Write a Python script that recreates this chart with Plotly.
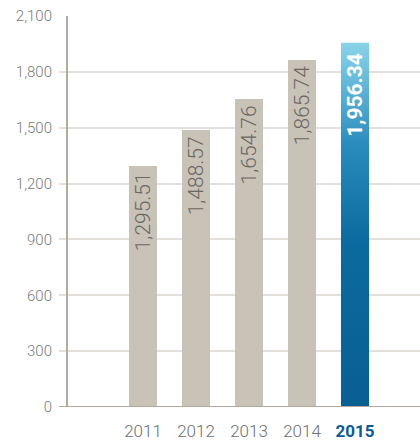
import plotly.graph_objects as go

# Yearly values shown on the chart
years = [2011, 2012, 2013, 2014, 2015]
values = [1295.51, 1488.57, 1654.76, 1865.74, 1956.34]
year_labels = ["2011", "2012", "2013", "2014",
               "<b><span style='color:#0e5a96'>2015</span></b>"]
y_ticks = [0, 300, 600, 900, 1200, 1500, 1800, 2100]

GRAY_BAR = "#c9c2b7"
GRID = "#e3dfda"
AXIS = "#b3aa9c"
TICK_FONT = "Roboto"
BAR_W = 0.53
X_RANGE = [2009.415, 2016.226]
Y_AXIS_X = 2009.566

fig = go.Figure()

# Earlier years as plain bars; the latest year gets a gradient fill below
bar_colors = [GRAY_BAR] * (len(years) - 1) + ["rgba(0,0,0,0)"]
fig.add_trace(go.Bar(
    x=years, y=values, width=BAR_W,
    marker=dict(color=bar_colors, line=dict(width=0)),
    hoverinfo="skip", showlegend=False,
))

# Latest year: filled polygon with a vertical gradient
lx, lv = years[-1], values[-1]
fig.add_trace(go.Scatter(
    x=[lx - BAR_W / 2, lx + BAR_W / 2, lx + BAR_W / 2, lx - BAR_W / 2, lx - BAR_W / 2],
    y=[0, 0, lv, lv, 0],
    mode="lines", line=dict(width=0),
    fill="toself",
    fillgradient=dict(
        type="vertical", start=0, stop=lv,
        colorscale=[[0, "#0a5f92"], [0.45, "#0b6a9f"], [0.72, "#2a8cbd"], [1, "#8ad4ea"]],
    ),
    hoverinfo="skip", showlegend=False,
))

# Value labels written vertically inside each bar
for i, (x, v) in enumerate(zip(years, values)):
    last = i == len(years) - 1
    fig.add_annotation(
        x=x, y=v, xref="x", yref="y",
        text=f"{v:,.2f}",
        textangle=-90, showarrow=False,
        xanchor="center", yanchor="top",
        yshift=-8 if last else -5,
        font=dict(family=TICK_FONT, size=21,
                  weight=700 if last else 300,
                  color="#ffffff" if last else "#6b6763"),
    )

# Vertical axis line, set in from the left edge of the grid lines
fig.add_shape(type="line", xref="x", yref="y",
              x0=Y_AXIS_X, x1=Y_AXIS_X, y0=0, y1=y_ticks[-1],
              line=dict(color=AXIS, width=2), layer="above")
# Baseline
fig.add_shape(type="line", xref="paper", yref="y",
              x0=0, x1=1, y0=0, y1=0,
              line=dict(color=AXIS, width=2), layer="above")

fig.update_layout(
    width=420, height=442,
    margin=dict(l=59, r=0, t=16, b=35),
    paper_bgcolor="#ffffff", plot_bgcolor="#ffffff",
    bargap=0,
    xaxis=dict(
        range=X_RANGE, tickmode="array", tickvals=years, ticktext=year_labels,
        showgrid=False, zeroline=False, showline=False, ticks="",
        tickfont=dict(family=TICK_FONT, size=17, color="#6f6f6f", weight=300),
        ticklabelstandoff=12,
    ),
    yaxis=dict(
        range=[0, y_ticks[-1]], tickmode="array", tickvals=y_ticks,
        tickformat=",", showgrid=True, gridcolor=GRID, gridwidth=1.5,
        zeroline=False, showline=False, ticks="",
        tickfont=dict(family=TICK_FONT, size=15, color="#7a7a7a", weight=300),
        ticklabelstandoff=6,
    ),
)

fig.write_html("out.html")
